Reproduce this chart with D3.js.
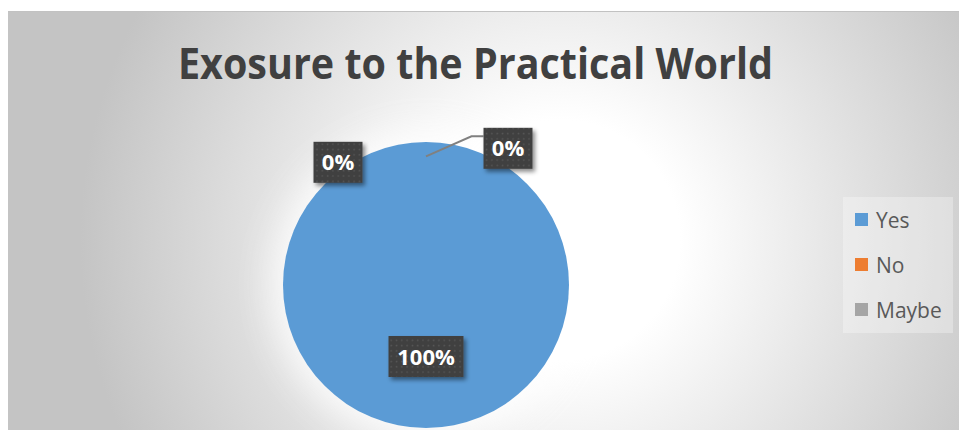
<!DOCTYPE html>
<html><head><meta charset="utf-8">
<script src="https://cdn.jsdelivr.net/npm/d3@7"></script>
<style>html,body{margin:0;padding:0;background:#fff;}svg{display:block;}</style>
</head><body>
<script>
const title = "Exosure to the Practical World";
const categories = ["Yes", "No", "Maybe"];
const values = [100, 0, 0];
const colors = ["#5B9BD5", "#ED7D31", "#A5A5A5"];

const W = 959, H = 430;
const svg = d3.select("body").append("svg").attr("width", W).attr("height", H);
const defs = svg.append("defs");

const grad = defs.append("radialGradient").attr("id", "bg")
  .attr("gradientUnits", "userSpaceOnUse")
  .attr("cx", 560).attr("cy", 240).attr("r", 480);
grad.append("stop").attr("offset", 0).attr("stop-color", "#ffffff");
grad.append("stop").attr("offset", 0.25).attr("stop-color", "#ffffff");
grad.append("stop").attr("offset", 1).attr("stop-color", "#c4c4c4");

const glow = defs.append("filter").attr("id", "glow").attr("x", "-50%").attr("y", "-50%").attr("width", "200%").attr("height", "200%");
glow.append("feGaussianBlur").attr("stdDeviation", 18);

const pat = defs.append("pattern").attr("id", "dots").attr("patternUnits", "userSpaceOnUse")
  .attr("width", 5.3).attr("height", 5.3);
pat.append("rect").attr("width", 5.3).attr("height", 5.3).attr("fill", "#3f3f3f");
pat.append("rect").attr("x", 1.5).attr("y", 1.5).attr("width", 1.6).attr("height", 1.6).attr("fill", "#575757");

const sh = defs.append("filter").attr("id", "shadow").attr("x", "-30%").attr("y", "-30%").attr("width", "160%").attr("height", "160%");
sh.append("feDropShadow").attr("dx", 2.5).attr("dy", 3).attr("stdDeviation", 2).attr("flood-color", "#000").attr("flood-opacity", 0.45);

// chart area
svg.append("rect").attr("x", 8).attr("y", 11).attr("width", W - 8).attr("height", H - 11).attr("fill", "url(#bg)");
svg.append("line").attr("x1", 8).attr("x2", W).attr("y1", 11.5).attr("y2", 11.5).attr("stroke", "#c2c2c2").attr("stroke-width", 1);

// title
svg.append("text").attr("x", 475.5).attr("y", 79).attr("text-anchor", "middle")
  .attr("font-family", "'Open Sans', sans-serif").attr("font-weight", "bold").attr("font-size", 43)
  .attr("fill", "#404040").attr("textLength", 595).attr("lengthAdjust", "spacingAndGlyphs").text(title);

// pie
const cx = 426, cy = 285, R = 143;
const data = categories.map((c, i) => ({cat: c, value: values[i], color: colors[i]}));
const pie = d3.pie().value(d => d.value).sort(null);
const arcs = pie(data);
const arc = d3.arc().innerRadius(0).outerRadius(R);
const g = svg.append("g").attr("transform", `translate(${cx},${cy})`);
g.append("circle").attr("r", R + 12).attr("fill", "#ffffff").attr("opacity", 0.85).attr("filter", "url(#glow)");
g.selectAll("path.slice").data(arcs).join("path").attr("class", "slice").attr("d", arc).attr("fill", d => d.data.color);

// labels
const total = d3.sum(values);
const pct = d => Math.round(d.value / total * 100) + "%";
const innerLabelArc = d3.arc().innerRadius(R * 0.9).outerRadius(R * 0.9);
const boxH = 41;
const labelLayout = [
  {dx: 0, dy: 0, leader: false},      // Yes: centroid
  {dx: 82, dy: -8, leader: true},     // No
  {dx: -88, dy: 6, leader: false}     // Maybe
];
arcs.forEach((a, i) => {
  let p;
  if (a.endAngle - a.startAngle > 0.0001) p = arc.centroid(a);
  else p = innerLabelArc.centroid(a);
  const L = labelLayout[i];
  const lx = p[0] + L.dx, ly = p[1] + L.dy;
  const txt = pct(a.data);
  const bw = txt.length > 2 ? 75 : 49;
  if (L.leader) {
    g.append("polyline")
      .attr("points", `${p[0]},${p[1]} ${lx - bw / 2 - 12},${ly - 12} ${lx - bw / 2},${ly - 12}`)
      .attr("fill", "none").attr("stroke", "#808080").attr("stroke-width", 2);
  }
  g.append("rect").attr("x", lx - bw / 2).attr("y", ly - boxH / 2).attr("width", bw).attr("height", boxH)
    .attr("fill", "url(#dots)").attr("filter", "url(#shadow)");
  g.append("text").attr("x", lx).attr("y", ly + 8).attr("text-anchor", "middle")
    .attr("font-family", "'Open Sans', sans-serif").attr("font-weight", "bold").attr("font-size", 22)
    .attr("fill", "#ffffff").text(txt);
});

// legend
const lg = svg.append("g");
lg.append("rect").attr("x", 843).attr("y", 197).attr("width", 110).attr("height", 136)
  .attr("fill", "#ffffff").attr("fill-opacity", 0.3);
const ly0 = 213, lstep = 45;
const items = lg.selectAll("g.item").data(data).join("g").attr("class", "item")
  .attr("transform", (d, i) => `translate(855,${ly0 + i * lstep})`);
items.append("rect").attr("width", 13).attr("height", 13).attr("fill", d => d.color);
items.append("text").attr("x", 21).attr("y", 14.5)
  .attr("font-family", "'Open Sans', sans-serif").attr("font-size", 21).attr("fill", "#595959")
  .text(d => d.cat);
</script>
</body></html>
